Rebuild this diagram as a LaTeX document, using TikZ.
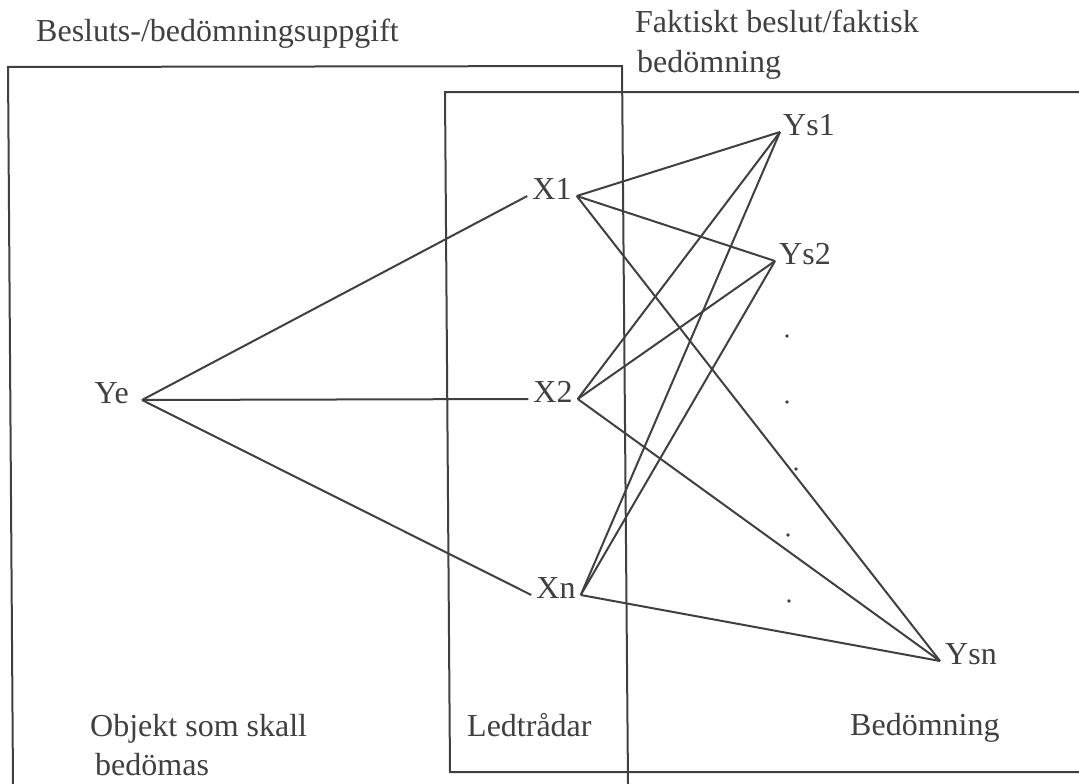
\documentclass[tikz,border=0pt]{standalone}
\usepackage{fontspec}
\setmainfont{Liberation Serif}
\definecolor{ink}{HTML}{404040}
\tikzset{
  edge/.style={draw=ink, line width=2pt},
  boxline/.style={draw=ink, line width=2pt},
  lbl/.style={inner xsep=5pt, inner ysep=0pt, text height=0.66em, text depth=0pt, text=ink, font=\fontsize{32}{39}\selectfont},
  captxt/.style={inner sep=0pt, anchor=base west, text=ink, align=left, font=\fontsize{32}{39}\selectfont},
  dotmark/.style={fill=ink, circle, inner sep=0pt, minimum size=3.8pt}
}
\begin{document}
\begin{tikzpicture}[x=1pt, y=-1pt]
\useasboundingbox (0,0) rectangle (1079,784);
% boxes
\draw[boxline] (13,784) -- (8,67) -- (622,66) -- (628,784);
\draw[boxline] (1079,92) -- (445,92) -- (450,772) -- (1079,772);
% captions (base = baseline of last line)
\node[captxt] (t1) at (36,42) {Besluts-/bedömningsuppgift};
\node[captxt, font=\fontsize{32}{40}\selectfont] (t2) at (635,73) {Faktiskt beslut/faktisk\\\hspace*{2pt}bedömning};
\node[captxt] (c1) at (90,775) {Objekt som skall\\\hspace*{5pt}bedömas};
\node[captxt] (c2) at (467,736) {Ledtrådar};
\node[captxt] (c3) at (850,735) {Bedömning};
% nodes
\node[lbl, anchor=east, inner xsep=13pt] (Ye) at (142,400) {Ye};
\node[lbl] (X1) at (552,196) {X1};
\node[lbl] (X2) at (553,399) {X2};
\node[lbl] (Xn) at (556,595) {Xn};
\node[lbl, anchor=west, inner xsep=3pt] (Ys1) at (780,132) {Ys1};
\node[lbl, anchor=west, inner xsep=4pt] (Ys2) at (775,261) {Ys2};
\node[lbl, anchor=west, inner xsep=5pt] (Ysn) at (940,661) {Ysn};
% dots
\node[dotmark] (d1) at (787,336) {};
\node[dotmark] (d2) at (787,402) {};
\node[dotmark] (d3) at (796,469) {};
\node[dotmark] (d4) at (788,535) {};
\node[dotmark] (d5) at (789,601) {};
% connectors
\foreach \x in {X1,X2,Xn} {
  \draw[edge] (Ye.east) -- (\x.west);
  \foreach \y in {Ys1,Ys2,Ysn} {
    \draw[edge] (\x.east) -- (\y.west);
  }
}
\end{tikzpicture}
\end{document}
